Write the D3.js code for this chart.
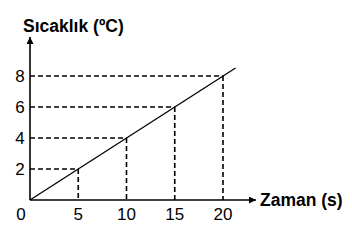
<!DOCTYPE html>
<html>
<head>
<meta charset="utf-8">
<script src="https://cdn.jsdelivr.net/npm/d3@7"></script>
<style>
  body { margin: 0; background: #fff; }
  svg { display: block; font-family: "Liberation Sans", Arial, sans-serif; }
</style>
</head>
<body>
<svg id="chart" width="352" height="240"></svg>
<script>
// data
const times = [5, 10, 15, 20];
const temps = [2, 4, 6, 8];
const xTicks = [0, 5, 10, 15, 20];
const yTicks = [2, 4, 6, 8];
const lineEnd = [21.3, 8.52];

const svg = d3.select('#chart');

const x = d3.scaleLinear().domain([0, 20]).range([30, 223]);
const y = d3.scaleLinear().domain([0, 8]).range([200, 76]);

svg.append('defs').append('marker')
    .attr('id', 'arrow')
    .attr('viewBox', '0 0 10 10')
    .attr('refX', 10).attr('refY', 5)
    .attr('markerWidth', 13).attr('markerHeight', 7)
    .attr('markerUnits', 'userSpaceOnUse')
    .attr('orient', 'auto')
    .append('path')
    .attr('d', 'M0,0L10,5L0,10Z')
    .style('fill', 'black');

// dashed guides
const pts = times.map((t, i) => [t, temps[i]]);
svg.selectAll('line.hguide').data(pts).enter().append('line')
    .attr('class', 'hguide')
    .attr('x1', x(0)).attr('y1', d => y(d[1]))
    .attr('x2', d => x(d[0])).attr('y2', d => y(d[1]))
    .style('stroke', 'black').attr('stroke-width', 1.6)
    .attr('stroke-dasharray', '5,3');
svg.selectAll('line.vguide').data(pts).enter().append('line')
    .attr('class', 'vguide')
    .attr('x1', d => x(d[0])).attr('y1', d => y(d[1]))
    .attr('x2', d => x(d[0])).attr('y2', y(0))
    .style('stroke', 'black').attr('stroke-width', 1.6)
    .attr('stroke-dasharray', '5,3');

// the data line
svg.append('line')
    .attr('x1', x(0)).attr('y1', y(0))
    .attr('x2', x(lineEnd[0])).attr('y2', y(lineEnd[1]))
    .style('stroke', 'black').attr('stroke-width', 1.3);

// axes
svg.append('line')
    .attr('x1', x(0)).attr('y1', y(0))
    .attr('x2', 256).attr('y2', y(0))
    .style('stroke', 'black').attr('stroke-width', 1.6)
    .attr('marker-end', 'url(#arrow)');
svg.append('line')
    .attr('x1', x(0)).attr('y1', y(0))
    .attr('x2', x(0)).attr('y2', 37)
    .style('stroke', 'black').attr('stroke-width', 1.6)
    .attr('marker-end', 'url(#arrow)');

// tick labels
svg.selectAll('text.xt').data(xTicks).enter().append('text')
    .attr('class', 'xt')
    .attr('x', d => d === 0 ? 21 : x(d)).attr('y', 220)
    .attr('text-anchor', 'middle')
    .style('font-size', '17px')
    .text(d => d);
svg.selectAll('text.yt').data(yTicks).enter().append('text')
    .attr('class', 'yt')
    .attr('x', 20).attr('y', d => y(d) + 6)
    .attr('text-anchor', 'middle')
    .style('font-size', '17px')
    .text(d => d);

// axis titles
svg.append('text')
    .attr('x', 23).attr('y', 32)
    .style('font-size', '17.5px').style('font-weight', 'bold')
    .text('Sıcaklık (ºC)');
svg.append('text')
    .attr('x', 260).attr('y', 206)
    .style('font-size', '17.5px').style('font-weight', 'bold')
    .text('Zaman (s)');
</script>
</body>
</html>
